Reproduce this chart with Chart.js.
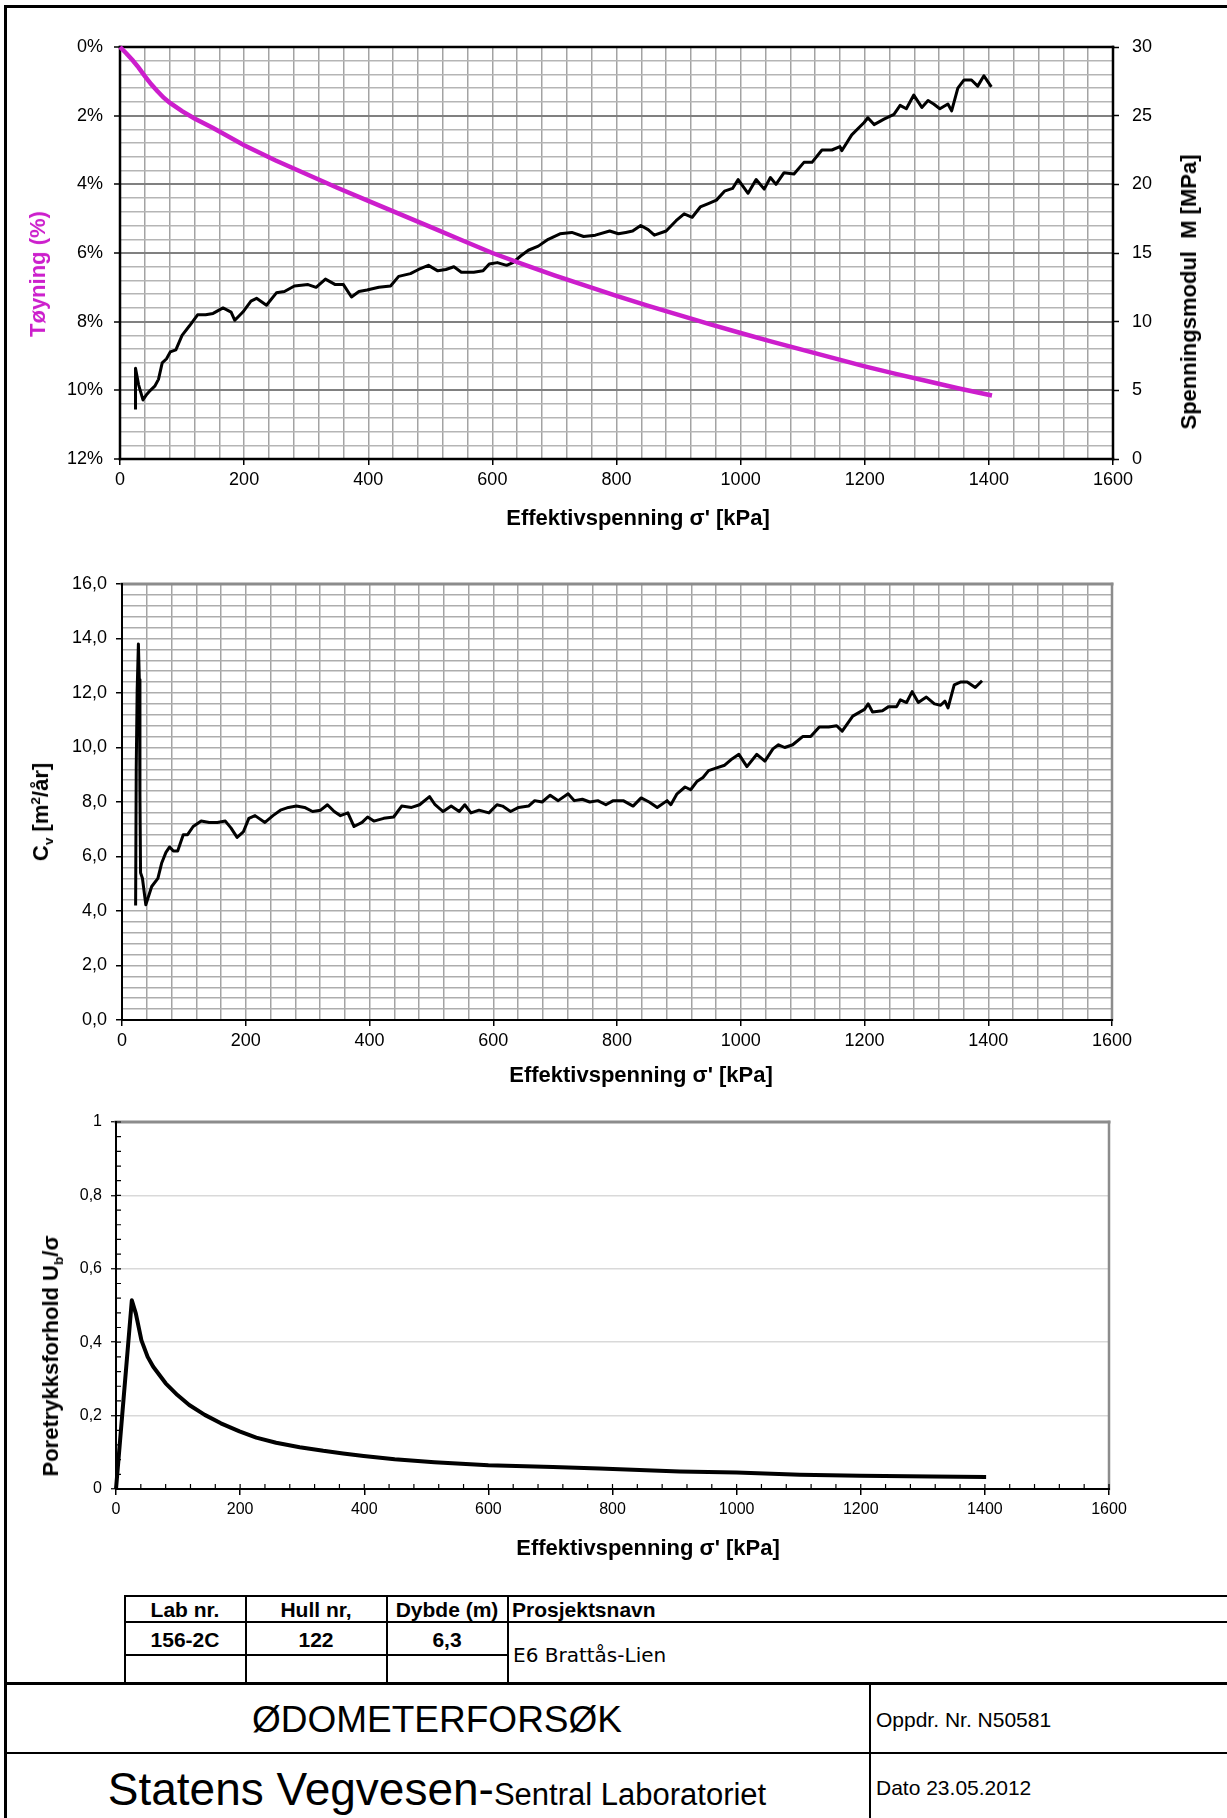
<!DOCTYPE html>
<html>
<head>
<meta charset="utf-8">
<title>Ødometerforsøk</title>
<script src="https://cdn.jsdelivr.net/npm/chart.js@4.4.1/dist/chart.umd.min.js"></script>
<style>
  body { margin: 0; background: #fff; font-family: "Liberation Sans", Arial, sans-serif; }
  #page { position: relative; width: 1227px; height: 1818px; overflow: hidden; background: #fff; }
  .frame { position: absolute; left: 4px; top: 5px; right: -10px; bottom: -10px; border-left: 3px solid #000; border-top: 3px solid #000; }
  .chart { position: absolute; left: 0; }
  .title { position: absolute; white-space: nowrap; font-weight: bold; font-size: 22px; line-height: 1; transform: translate(-50%, -50%); color: #000; }
  .vt { transform: translate(-50%, -50%) rotate(-90deg); }
  sub, sup { font-size: 0.62em; line-height: 0; }
  .ln { position: absolute; background: #000; }
  .t { position: absolute; white-space: nowrap; line-height: 1; transform: translate(-50%, -50%); color: #000; }
  .tl { position: absolute; white-space: nowrap; line-height: 1; transform: translateY(-50%); color: #000; }
  .b { font-weight: bold; font-size: 21px; }
</style>
</head>
<body>
<div id="page">
  <div class="frame"></div>

  <canvas id="strainChart" class="chart" style="top:0" width="1227" height="540"></canvas>
  <canvas id="cvChart" class="chart" style="top:540px" width="1227" height="560"></canvas>
  <canvas id="poreChart" class="chart" style="top:1100px" width="1227" height="480"></canvas>

  <!-- axis titles -->
  <div class="title vt" style="left:38px; top:274px; color:#CC1ECC;">Tøyning (%)</div>
  <div class="title vt" style="left:1189px; top:292px;">Spenningsmodul&nbsp; M [MPa]</div>
  <div class="title" style="left:638px; top:518px;">Effektivspenning σ' [kPa]</div>
  <div class="title vt" style="left:41px; top:812px;">C<sub>v</sub> [m<sup>2</sup>/år]</div>
  <div class="title" style="left:641px; top:1075px;">Effektivspenning σ' [kPa]</div>
  <div class="title vt" style="left:51px; top:1356px;">Poretrykksforhold U<sub>b</sub>/σ</div>
  <div class="title" style="left:648px; top:1548px;">Effektivspenning σ' [kPa]</div>

  <!-- info table -->
  <div class="ln" style="left:124px; top:1595px; width:1103px; height:2px"></div>
  <div class="ln" style="left:124px; top:1621px; width:1103px; height:2px"></div>
  <div class="ln" style="left:124px; top:1654px; width:385px; height:2px"></div>
  <div class="ln" style="left:124px; top:1595px; width:2px; height:88px"></div>
  <div class="ln" style="left:245px; top:1595px; width:2px; height:88px"></div>
  <div class="ln" style="left:386px; top:1595px; width:2px; height:88px"></div>
  <div class="ln" style="left:507px; top:1595px; width:2px; height:88px"></div>
  <div class="ln" style="left:4px; top:1682px; width:1223px; height:3px"></div>
  <div class="ln" style="left:869px; top:1682px; width:2px; height:136px"></div>
  <div class="ln" style="left:4px; top:1752px; width:1223px; height:2px"></div>

  <div class="t b" style="left:185px; top:1609px">Lab nr.</div>
  <div class="t b" style="left:316px; top:1609px">Hull nr,</div>
  <div class="t b" style="left:447px; top:1609px">Dybde (m)</div>
  <div class="tl b" style="left:512px; top:1609px">Prosjektsnavn</div>
  <div class="t b" style="left:185px; top:1639px">156-2C</div>
  <div class="t b" style="left:316px; top:1639px">122</div>
  <div class="t b" style="left:447px; top:1639px">6,3</div>
  <div class="tl" style="left:513px; top:1655px; font-family:'DejaVu Sans'; font-size:20px">E6 Brattås-Lien</div>

  <div class="t" style="left:437px; top:1719px; font-size:37px">ØDOMETERFORSØK</div>
  <div class="tl" style="left:876px; top:1719px; font-size:21px">Oppdr. Nr. N50581</div>
  <div class="t" style="left:437px; top:1789px; font-size:46px">Statens Vegvesen-<span style="font-size:31px">Sentral Laboratoriet</span></div>
  <div class="tl" style="left:876px; top:1787px; font-size:21px">Dato 23.05.2012</div>
</div>

<script>
// ---- data ----
const strainStress = [0, 10, 20, 30, 40, 50, 60, 70, 80, 100, 120, 150, 200, 250, 300, 350, 400, 450, 500, 550, 600, 650, 700, 750, 800, 850, 900, 950, 1000, 1050, 1100, 1150, 1200, 1250, 1300, 1350, 1405];
const strainValues = [0, 0.18, 0.38, 0.6, 0.85, 1.08, 1.28, 1.47, 1.62, 1.87, 2.08, 2.36, 2.86, 3.3, 3.7, 4.1, 4.48, 4.86, 5.24, 5.62, 6.0, 6.33, 6.65, 6.95, 7.25, 7.53, 7.8, 8.07, 8.33, 8.58, 8.82, 9.06, 9.3, 9.52, 9.73, 9.94, 10.15];

const modulusStress = [25, 25, 30, 37, 43, 49, 56, 62, 68, 75, 81, 90, 100, 112, 125, 138, 150, 166, 179, 185, 198, 211, 220, 236, 252, 265, 281, 303, 316, 331, 347, 360, 373, 385, 398, 417, 436, 449, 468, 481, 497, 512, 525, 538, 550, 570, 585, 595, 608, 623, 633, 646, 658, 674, 690, 709, 728, 747, 766, 789, 803, 815, 826, 839, 851, 861, 880, 896, 909, 922, 935, 948, 961, 974, 987, 996, 1012, 1025, 1038, 1048, 1057, 1070, 1086, 1102, 1115, 1131, 1147, 1160, 1163, 1179, 1199, 1205, 1215, 1231, 1247, 1257, 1267, 1279, 1292, 1302, 1311, 1321, 1334, 1340, 1350, 1360, 1372, 1382, 1392, 1404];
const modulusValues = [3.6, 6.6, 5.4, 4.3, 4.7, 5.0, 5.3, 5.8, 7.0, 7.3, 7.8, 7.95, 9.0, 9.7, 10.5, 10.5, 10.6, 11.0, 10.7, 10.1, 10.7, 11.5, 11.7, 11.2, 12.1, 12.2, 12.6, 12.7, 12.5, 13.1, 12.7, 12.7, 11.8, 12.2, 12.3, 12.5, 12.6, 13.3, 13.5, 13.8, 14.1, 13.7, 13.8, 14.0, 13.6, 13.6, 13.7, 14.2, 14.3, 14.1, 14.3, 14.8, 15.2, 15.5, 16.0, 16.4, 16.5, 16.2, 16.3, 16.6, 16.4, 16.5, 16.6, 17.0, 16.7, 16.3, 16.6, 17.35, 17.85, 17.6, 18.35, 18.6, 18.85, 19.5, 19.7, 20.35, 19.35, 20.35, 19.65, 20.5, 20.0, 20.85, 20.75, 21.6, 21.6, 22.5, 22.5, 22.75, 22.45, 23.6, 24.5, 24.85, 24.35, 24.75, 25.1, 25.75, 25.5, 26.5, 25.6, 26.1, 25.85, 25.5, 25.85, 25.35, 27.0, 27.6, 27.6, 27.15, 27.9, 27.1];

const cvStress = [22, 23, 24.5, 26.5, 28, 29, 30, 33, 38.5, 48, 58, 64, 71, 77, 83, 90, 99, 106, 115, 128, 141, 154, 167, 176, 186, 196, 205, 215, 231, 244, 256, 269, 282, 295, 308, 321, 332, 343, 353, 365, 375, 388, 397, 407, 423, 439, 452, 468, 481, 497, 506, 519, 532, 545, 554, 564, 577, 593, 606, 615, 628, 641, 657, 667, 679, 692, 705, 721, 731, 744, 756, 769, 782, 794, 810, 826, 839, 852, 865, 881, 887, 897, 910, 919, 929, 939, 948, 961, 974, 984, 997, 1010, 1026, 1039, 1052, 1061, 1071, 1084, 1100, 1113, 1127, 1142, 1155, 1164, 1181, 1200, 1206, 1213, 1229, 1239, 1252, 1258, 1268, 1277, 1287, 1300, 1313, 1323, 1330, 1335, 1345, 1355, 1366, 1379, 1390];
const cvValues = [4.2, 9.2, 12.1, 13.8, 12.5, 8.3, 5.4, 5.2, 4.23, 4.9, 5.2, 5.75, 6.15, 6.35, 6.2, 6.2, 6.8, 6.8, 7.1, 7.3, 7.25, 7.25, 7.3, 7.05, 6.7, 6.9, 7.4, 7.5, 7.25, 7.5, 7.7, 7.8, 7.85, 7.8, 7.65, 7.7, 7.9, 7.65, 7.5, 7.6, 7.1, 7.25, 7.45, 7.3, 7.4, 7.45, 7.85, 7.8, 7.9, 8.2, 7.9, 7.65, 7.85, 7.65, 7.9, 7.6, 7.7, 7.6, 7.9, 7.85, 7.65, 7.8, 7.85, 8.05, 8.0, 8.25, 8.05, 8.3, 8.05, 8.1, 8.0, 8.05, 7.9, 8.05, 8.05, 7.85, 8.15, 8.0, 7.8, 8.05, 7.9, 8.3, 8.55, 8.45, 8.75, 8.9, 9.15, 9.25, 9.35, 9.55, 9.75, 9.3, 9.75, 9.5, 9.95, 10.1, 10.0, 10.1, 10.4, 10.4, 10.75, 10.75, 10.8, 10.6, 11.15, 11.4, 11.6, 11.3, 11.35, 11.5, 11.5, 11.75, 11.65, 12.05, 11.65, 11.85, 11.6, 11.55, 11.7, 11.45, 12.3, 12.4, 12.4, 12.2, 12.45];

const poreStress = [0, 25.5, 32, 41, 51, 60, 80, 99, 118, 143, 169, 199, 226, 258, 296, 334, 366, 399, 449, 513, 600, 704, 779, 908, 1000, 1102, 1199, 1315, 1402];
const poreValues = [0, 0.514, 0.478, 0.405, 0.36, 0.333, 0.288, 0.256, 0.229, 0.202, 0.179, 0.157, 0.14, 0.126, 0.114, 0.104, 0.097, 0.09, 0.081, 0.073, 0.065, 0.06, 0.056, 0.048, 0.045, 0.039, 0.036, 0.034, 0.033];

const stressTickLabels = ['0', '200', '400', '600', '800', '1000', '1200', '1400', '1600'];
const strainTickLabels = ['0%', '2%', '4%', '6%', '8%', '10%', '12%'];
const modulusTickLabels = ['0', '5', '10', '15', '20', '25', '30'];
const cvTickLabels = ['0,0', '2,0', '4,0', '6,0', '8,0', '10,0', '12,0', '14,0', '16,0'];
const poreTickLabels = ['0', '0,2', '0,4', '0,6', '0,8', '1'];

// ---- helpers ----
const FONT = "'Liberation Sans', Arial, sans-serif";
const MAGENTA = '#CC1ECC';
const near = (v, step) => Math.abs(v / step - Math.round(v / step)) < 1e-6;
const labelEvery = (list, step) => v => near(v, step) ? list[Math.round(v / step)] : '';
const majorTick = step => ctx => near(ctx.tick.value, step) ? '#000' : 'rgba(0,0,0,0)';
const pts = (xs, ys) => xs.map((x, i) => ({ x, y: ys[i] }));

// plot frame with a colour per side
const framePlugin = {
  id: 'frame',
  beforeDatasetsDraw(chart, args, opts) {
    const { ctx, chartArea: a } = chart;
    const seg = (x1, y1, x2, y2, [c, w]) => {
      ctx.strokeStyle = c; ctx.lineWidth = w;
      ctx.beginPath(); ctx.moveTo(x1, y1); ctx.lineTo(x2, y2); ctx.stroke();
    };
    ctx.save();
    ctx.lineCap = 'square';
    seg(a.left, a.top, a.right, a.top, opts.top);
    seg(a.right, a.top, a.right, a.bottom, opts.right);
    seg(a.left, a.bottom, a.right, a.bottom, opts.bottom);
    seg(a.left, a.top, a.left, a.bottom, opts.left);
    ctx.restore();
  }
};

// small tick marks pointing into the plot (bottom and left axes)
const innerTicksPlugin = {
  id: 'innerTicks',
  beforeDatasetsDraw(chart, args, opts) {
    if (!opts.x) return;
    const { ctx, chartArea: a, scales } = chart;
    ctx.save();
    ctx.strokeStyle = '#000';
    ctx.lineWidth = 1.2;
    ctx.beginPath();
    const nx = Math.round((scales.x.max - scales.x.min) / opts.x);
    for (let i = 0; i <= nx; i++) {
      const px = scales.x.getPixelForValue(scales.x.min + i * opts.x);
      ctx.moveTo(px, a.bottom); ctx.lineTo(px, a.bottom - opts.len);
    }
    const ny = Math.round((scales.y.max - scales.y.min) / opts.y);
    for (let i = 0; i <= ny; i++) {
      const py = scales.y.getPixelForValue(scales.y.min + i * opts.y);
      ctx.moveTo(a.left, py); ctx.lineTo(a.left + opts.len, py);
    }
    ctx.stroke();
    ctx.restore();
  }
};

function stressAxis(height, size, padding, gridOnArea) {
  return {
    type: 'linear', min: 0, max: 1600,
    ticks: { stepSize: 40, autoSkip: false, maxRotation: 0, padding, color: '#000', font: { family: FONT, size }, callback: labelEvery(stressTickLabels, 200) },
    grid: { drawOnChartArea: gridOnArea, color: '#A3A3A3', lineWidth: 1.5, tickLength: 6, tickWidth: 1.5, tickColor: majorTick(200) },
    border: { display: false },
    afterFit: s => { s.height = height; }
  };
}

const common = {
  responsive: false,
  animation: false,
  events: [],
  plugins: { legend: { display: false }, tooltip: { enabled: false } }
};

// ---- chart 1: strain and modulus ----
new Chart(document.getElementById('strainChart'), {
  type: 'scatter',
  data: {
    datasets: [
      { data: pts(strainStress, strainValues), yAxisID: 'y', showLine: true, borderColor: MAGENTA, borderWidth: 4.5, pointRadius: 0, clip: false },
      { data: pts(modulusStress, modulusValues), yAxisID: 'y2', showLine: true, borderColor: '#000', borderWidth: 3, pointRadius: 0, borderJoinStyle: 'round' }
    ]
  },
  options: {
    ...common,
    layout: { padding: { top: 47, left: 0, right: 0, bottom: 0 } },
    scales: {
      x: stressAxis(81, 18, 4, true),
      y: {
        position: 'left', reverse: true, min: 0, max: 12,
        ticks: { stepSize: 0.4, autoSkip: false, padding: 11, color: '#000', font: { family: FONT, size: 18 }, callback: labelEvery(strainTickLabels, 2) },
        grid: {
          color: ctx => near(ctx.tick.value, 2) ? '#808080' : '#B5B5B5',
          lineWidth: ctx => near(ctx.tick.value, 2) ? 2 : 1.5,
          tickLength: 6, tickWidth: 1.5, tickColor: majorTick(2)
        },
        border: { display: false },
        afterFit: s => { s.width = 120; }
      },
      y2: {
        position: 'right', min: 0, max: 30,
        ticks: { stepSize: 1, autoSkip: false, padding: 13, color: '#000', font: { family: FONT, size: 18 }, callback: labelEvery(modulusTickLabels, 5) },
        grid: { drawOnChartArea: false, tickLength: 6, tickWidth: 1.5, tickColor: majorTick(5) },
        border: { display: false },
        afterFit: s => { s.width = 114; }
      }
    },
    plugins: { ...common.plugins, frame: { top: ['#000', 2.5], right: ['#000', 2.5], bottom: ['#000', 2.5], left: ['#000', 2.5] } }
  },
  plugins: [framePlugin]
});

// ---- chart 2: Cv ----
new Chart(document.getElementById('cvChart'), {
  type: 'scatter',
  data: {
    datasets: [
      { data: pts(cvStress, cvValues), showLine: true, borderColor: '#000', borderWidth: 3, pointRadius: 0, borderJoinStyle: 'round' }
    ]
  },
  options: {
    ...common,
    layout: { padding: { top: 44, left: 0, right: 115, bottom: 0 } },
    scales: {
      x: stressAxis(80, 18, 4, true),
      y: {
        min: 0, max: 16,
        ticks: { stepSize: 0.4, autoSkip: false, padding: 9, color: '#000', font: { family: FONT, size: 18 }, callback: labelEvery(cvTickLabels, 2) },
        grid: { color: '#ADADAD', lineWidth: 1.5, tickLength: 6, tickWidth: 1.5, tickColor: majorTick(2) },
        border: { display: false },
        afterFit: s => { s.width = 122; }
      }
    },
    plugins: { ...common.plugins, frame: { top: ['#8C8C8C', 3], right: ['#8C8C8C', 2.5], bottom: ['#000', 2], left: ['#000', 2] } }
  },
  plugins: [framePlugin]
});

// ---- chart 3: pore pressure ratio ----
new Chart(document.getElementById('poreChart'), {
  type: 'scatter',
  data: {
    datasets: [
      { data: pts(poreStress, poreValues), showLine: true, borderColor: '#000', borderWidth: 4, pointRadius: 0, borderJoinStyle: 'round', clip: false }
    ]
  },
  options: {
    ...common,
    layout: { padding: { top: 22, left: 0, right: 118, bottom: 0 } },
    scales: {
      x: stressAxis(91, 16, 5, false),
      y: {
        min: 0, max: 1,
        ticks: { stepSize: 0.2, autoSkip: false, padding: 9, color: '#000', font: { family: FONT, size: 16 }, callback: labelEvery(poreTickLabels, 0.2) },
        grid: { color: '#D9D9D9', lineWidth: 1.5, tickLength: 5, tickWidth: 1.2, tickColor: '#000' },
        border: { display: false },
        afterFit: s => { s.width = 116; }
      }
    },
    plugins: {
      ...common.plugins,
      frame: { top: ['#8C8C8C', 3], right: ['#8C8C8C', 2.5], bottom: ['#000', 2], left: ['#000', 2] },
      innerTicks: { x: 40, y: 0.04, len: 5 }
    }
  },
  plugins: [framePlugin, innerTicksPlugin]
});
</script>
</body>
</html>
